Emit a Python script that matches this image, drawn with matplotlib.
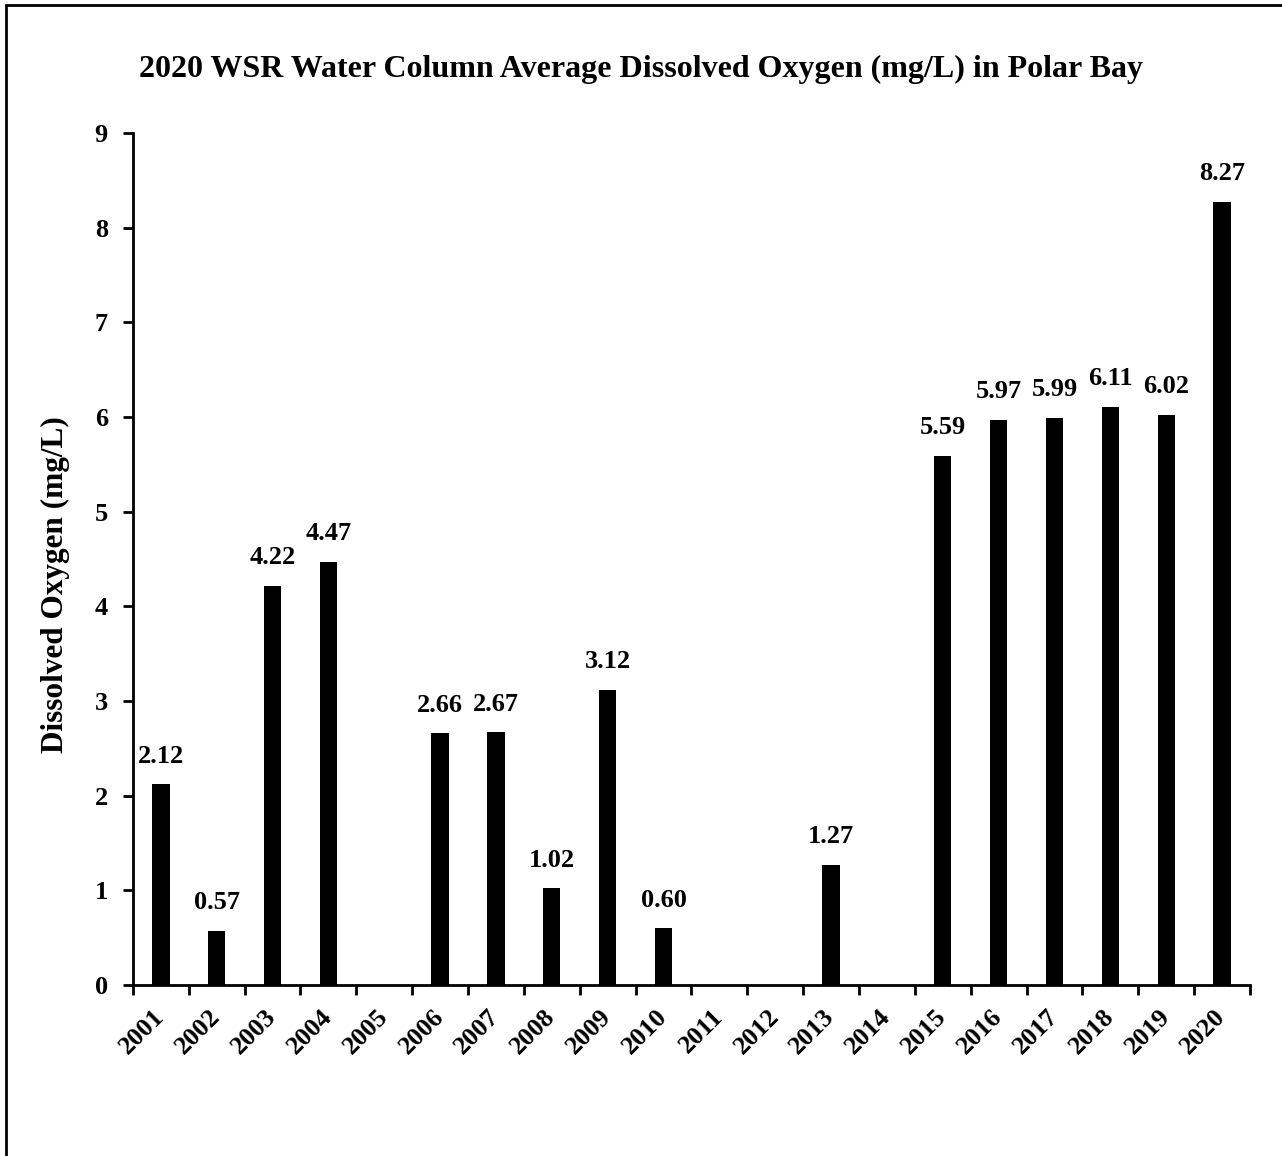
import matplotlib.pyplot as plt
import numpy as np
from matplotlib.patches import Rectangle
from matplotlib.ticker import FixedLocator

plt.rcParams['font.family'] = ['Liberation Serif', 'DejaVu Serif']
plt.rcParams['font.weight'] = 'bold'

years = ['2001', '2002', '2003', '2004', '2005', '2006', '2007', '2008', '2009', '2010',
         '2011', '2012', '2013', '2014', '2015', '2016', '2017', '2018', '2019', '2020']
# nan = no survey that year
do_avg = [2.12, 0.57, 4.22, 4.47, np.nan, 2.66, 2.67, 1.02, 3.12, 0.60,
          np.nan, np.nan, 1.27, np.nan, 5.59, 5.97, 5.99, 6.11, 6.02, 8.27]

fig = plt.figure(figsize=(12.82, 11.56), dpi=100)
ax = fig.add_axes([0.1037, 0.1479, 0.8713, 0.737])

x = np.arange(len(years))
ax.bar(x, do_avg, width=0.31, color='black')

for xi, v in zip(x, do_avg):
    if np.isnan(v):
        continue
    ax.annotate('%.2f' % v, (xi, v), xytext=(0, 12), textcoords='offset points',
                ha='center', va='bottom', fontsize=19, fontweight='bold')

ax.set_xlim(-0.5, len(years) - 0.5)
ax.set_ylim(0, 9)
ax.set_yticks(range(0, 10))
ax.tick_params(axis='y', labelsize=19, width=2, length=7, pad=11)

# labels at category centres, tick marks between categories
ax.set_xticks(x)
ax.set_xticklabels(years, rotation=45, ha='right', va='center', rotation_mode='anchor', fontsize=19)
ax.tick_params(axis='x', which='major', length=0, pad=20)
ax.xaxis.set_minor_locator(FixedLocator(np.arange(-0.5, len(years), 1.0)))
ax.tick_params(axis='x', which='minor', length=7, width=2)

for s in ['top', 'right']:
    ax.spines[s].set_visible(False)
for s in ['left', 'bottom']:
    ax.spines[s].set_linewidth(2)

ax.set_ylabel('Dissolved Oxygen (mg/L)', fontsize=22.5, fontweight='bold')
ax.yaxis.set_label_coords(-0.0564, 0.4695)

fig.text(0.5, 0.9334, '2020 WSR Water Column Average Dissolved Oxygen (mg/L) in Polar Bay',
         ha='center', va='baseline', fontsize=23, fontweight='bold')

# outer frame, runs off the right and bottom edges
fig.patches.append(Rectangle((6 / 1282, -0.2), 1.1, 1.2 - 5 / 1156, transform=fig.transFigure,
                             fill=False, edgecolor='black', linewidth=2))

fig.savefig('out.png', dpi=100)
